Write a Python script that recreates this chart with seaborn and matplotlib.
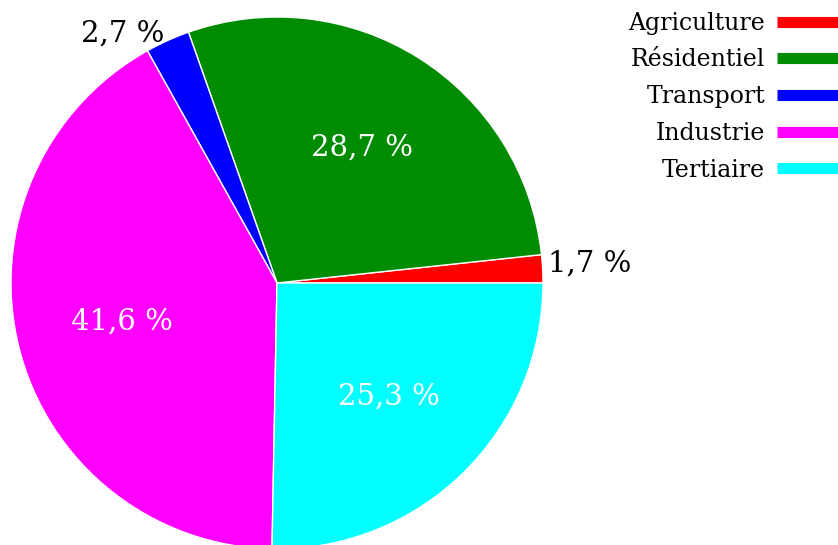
"""
Répartition de la consommation par secteur — camembert
"""

import numpy as np
import matplotlib
matplotlib.use('Agg')
import matplotlib.pyplot as plt
from matplotlib.lines import Line2D
import seaborn as sns

sns.set_theme(style='white')
plt.rcParams['font.family'] = ['DejaVu Serif']
plt.rcParams['text.color'] = 'black'

secteurs = ['Agriculture', 'Résidentiel', 'Transport', 'Industrie', 'Tertiaire']
parts    = [1.7, 28.7, 2.7, 41.6, 25.3]
couleurs = ['#ff0000', '#008c00', '#0000ff', '#ff00ff', '#00ffff']

fig = plt.figure(figsize=(8.38, 5.45), dpi=100)
# axe carré : centre (277, 283) px, rayon 266 px
ax = fig.add_axes([11 / 838, -4 / 545, 532 / 838, 532 / 545])

wedges, _ = ax.pie(parts, colors=couleurs, startangle=0, counterclock=True,
                   radius=1, wedgeprops=dict(edgecolor='white', linewidth=1))
ax.set_xlim(-1, 1)
ax.set_ylim(-1, 1)
ax.set_aspect('equal')
ax.axis('off')

# Étiquettes : blanches dedans, noires dehors pour les petites parts
for w, p in zip(wedges, parts):
    ang = np.deg2rad((w.theta1 + w.theta2) / 2)
    txt = f'{p:.1f} %'.replace('.', ',')
    if p > 10:
        r = 0.6
        ax.text(r * np.cos(ang), r * np.sin(ang), txt, color='white',
                fontsize=21, ha='center', va='center')
    elif np.cos(ang) > 0:
        r = 1.02
        ax.text(r * np.cos(ang), r * np.sin(ang) + 0.02, txt, color='black',
                fontsize=21, ha='left', va='center')
    else:
        r = 1.03
        ax.text(r * np.cos(ang), r * np.sin(ang), txt, color='black',
                fontsize=21, ha='right', va='center')

handles = [Line2D([0], [0], color=c, lw=8, solid_capstyle='butt') for c in couleurs]
fig.legend(handles, secteurs, loc='upper right',
           bbox_to_anchor=(1.0 + 12 / 838, 1.0),
           frameon=False, markerfirst=False, fontsize=17, handlelength=2.6,
           handletextpad=0.5, labelspacing=0.58, borderpad=0.5,
           borderaxespad=0, labelcolor='black')

plt.savefig('out.png', dpi=100)
